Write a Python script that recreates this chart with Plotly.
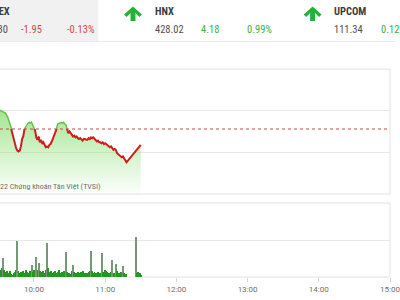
import plotly.graph_objects as go
import pandas as pd

# ---------------- data ----------------
DAY = "2022-03-01 "
line_times = ["09:24", "09:27", "09:30", "09:32", "09:34", "09:36", "09:38", "09:39", "09:40", "09:41",
              "09:42", "09:43", "09:44", "09:45", "09:46", "09:47", "09:48", "09:49", "09:50", "09:51",
              "09:52", "09:53", "09:54", "09:55", "09:56", "09:57", "09:58", "09:59", "10:00", "10:01",
              "10:02", "10:03", "10:04", "10:05", "10:06", "10:07", "10:08", "10:09", "10:10", "10:11",
              "10:12", "10:13", "10:14", "10:15", "10:16", "10:17", "10:18", "10:19", "10:20", "10:21",
              "10:22", "10:23", "10:24", "10:25", "10:26", "10:27", "10:28", "10:29", "10:30", "10:31",
              "10:32", "10:33", "10:34", "10:35", "10:36", "10:37", "10:38", "10:39", "10:40", "10:41",
              "10:42", "10:43", "10:44", "10:45", "10:46", "10:47", "10:48", "10:49", "10:50", "10:51",
              "10:52", "10:53", "10:54", "10:55", "10:56", "10:57", "10:58", "10:59", "11:00", "11:01",
              "11:02", "11:03", "11:04", "11:05", "11:06", "11:07", "11:08", "11:09", "11:10", "11:11",
              "11:12", "11:13", "11:14", "11:15", "11:16", "11:17", "11:18", "11:30"]
line_values = [1505.4, 1505.2, 1505.1, 1505.0, 1504.8, 1504.7, 1504.2, 1503.8, 1503.4, 1502.7,
               1502.1, 1501.5, 1500.9, 1500.5, 1500.2, 1500.1, 1500.2, 1500.7, 1501.6, 1501.9,
               1502.8, 1503.1, 1503.3, 1503.5, 1503.6, 1503.5, 1503.6, 1503.3, 1503.0, 1502.6,
               1501.8, 1501.5, 1501.9, 1501.2, 1501.5, 1501.0, 1501.2, 1500.8, 1500.6, 1500.7,
               1500.6, 1500.9, 1501.0, 1501.3, 1501.7, 1502.1, 1502.3, 1502.8, 1503.4, 1503.5,
               1503.5, 1503.6, 1503.5, 1503.6, 1503.4, 1503.3, 1502.7, 1502.3, 1502.5, 1502.2,
               1502.1, 1501.9, 1502.0, 1501.8, 1501.9, 1501.7, 1501.6, 1501.7, 1501.5, 1501.4,
               1501.6, 1501.6, 1501.5, 1501.5, 1501.7, 1501.6, 1501.8, 1501.7, 1501.8, 1501.6,
               1501.5, 1501.3, 1501.4, 1501.2, 1501.2, 1501.1, 1501.2, 1501.0, 1501.1, 1501.0,
               1500.8, 1500.8, 1500.6, 1500.7, 1500.5, 1500.3, 1500.4, 1500.3, 1499.9, 1499.8,
               1499.6, 1499.5, 1499.4, 1499.5, 1499.3, 1499.0, 1498.8, 1500.9]
ref_value = 1502.8

vol_start = "09:28"
vol_values = [0.8, 0.6, 0.9, 0.7, 1.0, 1.2, 2.6, 0.9, 0.7, 0.8,
              0.6, 0.5, 0.8, 0.4, 0.3, 0.5, 0.7, 0.9, 4.9, 0.8,
              0.6, 0.7, 0.5, 0.8, 0.6, 0.9, 0.7, 0.5, 0.6, 0.8,
              1.6, 0.7, 0.9, 0.8, 2.7, 0.9, 1.9, 0.8, 0.6, 0.7,
              0.8, 0.6, 0.9, 4.6, 1.2, 0.7, 0.8, 0.6, 0.5, 0.7,
              0.8, 0.6, 0.7, 0.9, 0.6, 0.5, 0.7, 0.8, 0.6, 3.4,
              0.7, 0.5, 0.6, 0.4, 0.8, 1.6, 0.7, 0.6, 0.5, 0.7,
              0.6, 0.5, 0.7, 0.8, 0.6, 0.5, 0.4, 0.6, 0.7, 0.8,
              3.5, 0.8, 0.6, 0.7, 0.5, 0.6, 0.7, 0.5, 0.6, 3.2,
              0.7, 0.6, 0.95, 0.8, 0.7, 0.5, 0.6, 0.7, 2.3, 0.6,
              0.5, 1.75, 0.8, 0.6, 0.5, 0.7, 0.6, 1.5, 0.5, 0.4,
              0.4, 0, 0, 0, 0, 0, 0, 0, 5.4, 0.6,
              0.7, 0.5, 0.3]

x_tick_labels = ["10:00", "11:00", "12:00", "13:00", "14:00", "15:00"]
x_range = ["09:31:24", "15:00"]

idx_names = ["VNINDEX", "HNX", "UPCOM"]
idx_values = ["1,500.30", "428.02", "111.34"]
idx_changes = ["-1.95", "4.18", "0.12"]
idx_pcts = ["-0.13%", "0.99%", "0.12%"]
credit_text = "© 2022 Chứng khoán Tân Việt (TVSI)"

# ---------------- geometry helpers ----------------
W, H = 400, 300
ML, MR, MT, MB = 0, 7, 69, 23
PW, PH = W - ML - MR, H - MT - MB


def px(x):
    return (x - ML) / PW


def py(y):
    return (H - MB - y) / PH


main_bot, ref_pix, main_top = py(194), py(129), py(69)
vol_bot, vol_top = py(277), py(203)

xs = [DAY + t for t in line_times]
vol_x = pd.date_range(DAY + vol_start, periods=len(vol_values), freq="min")
y_low = 1495.0
y_high = 1510.0

fig = go.Figure()

grad = dict(type="vertical",
            colorscale=[[0, "rgba(150,228,128,0.04)"], [1, "rgba(140,222,115,0.85)"]],
            start=y_low, stop=1505.6)

for ax in ["y", "y3"]:
    fig.add_trace(go.Scatter(x=xs, y=[y_low] * len(xs), mode="lines", line=dict(width=0),
                             yaxis=ax, hoverinfo="skip", showlegend=False))
    fig.add_trace(go.Scatter(x=xs, y=line_values, mode="lines", line=dict(width=0),
                             fill="tonexty", fillgradient=grad, yaxis=ax,
                             hoverinfo="skip", showlegend=False))

fig.add_trace(go.Scatter(x=xs, y=line_values, mode="lines",
                         line=dict(color="rgb(210,28,28)", width=2), yaxis="y", showlegend=False))
fig.add_trace(go.Scatter(x=xs, y=line_values, mode="lines",
                         line=dict(color="rgb(96,196,76)", width=1.5), yaxis="y3", showlegend=False))

bar_colors = ["rgb(120,150,120)" if v > 1.3 else "rgb(36,150,36)" for v in vol_values]
fig.add_trace(go.Bar(x=vol_x, y=vol_values, yaxis="y2", width=60000 * 0.75,
                     marker=dict(color=bar_colors, line=dict(width=0)), showlegend=False))

grid = "rgb(232,232,232)"
fig.update_layout(
    width=W, height=H, margin=dict(l=ML, r=MR, t=MT, b=MB),
    paper_bgcolor="white", plot_bgcolor="white", showlegend=False, bargap=0,
    font=dict(family="Roboto, Liberation Sans, sans-serif"),
    xaxis=dict(type="date", range=[DAY + x_range[0], DAY + x_range[1]], anchor="y2",
               showgrid=False, zeroline=False, showline=False,
               tickvals=[DAY + t for t in x_tick_labels], ticktext=x_tick_labels,
               ticks="outside", ticklen=4, tickcolor="rgb(215,215,215)",
               tickfont=dict(size=8, color="rgb(110,110,110)"), ticklabeloverflow="allow"),
    yaxis=dict(domain=[main_bot, ref_pix], range=[y_low, ref_value], tick0=y_low, dtick=5,
               showticklabels=False, gridcolor=grid, zeroline=False),
    yaxis3=dict(domain=[ref_pix, main_top], range=[ref_value, y_high], tick0=y_low, dtick=5,
                showticklabels=False, gridcolor=grid, zeroline=False),
    yaxis2=dict(domain=[vol_bot, vol_top], range=[0, 10], dtick=5,
                showticklabels=False, gridcolor=grid, zeroline=False),
)

shapes = []
# panel borders
shapes.append(dict(type="rect", xref="paper", yref="paper", x0=-0.05, x1=1, y0=main_bot, y1=main_top,
                   line=dict(color="rgb(226,226,226)", width=1), layer="below"))
shapes.append(dict(type="rect", xref="paper", yref="paper", x0=-0.05, x1=1, y0=vol_bot, y1=vol_top,
                   line=dict(color="rgb(226,226,226)", width=1), layer="below"))
# reference line
shapes.append(dict(type="line", xref="paper", yref="paper", x0=0, x1=1, y0=ref_pix, y1=ref_pix,
                   line=dict(color="rgb(205,70,70)", width=1, dash="dot"), layer="above"))
# header
shapes.append(dict(type="rect", xref="paper", yref="paper", x0=px(-2), x1=px(99), y0=py(41), y1=py(-2),
                   fillcolor="rgb(241,241,241)", line=dict(width=0), layer="below"))
shapes.append(dict(type="line", xref="paper", yref="paper", x0=px(0), x1=px(400), y0=py(41.5), y1=py(41.5),
                   line=dict(color="rgb(236,236,236)", width=1)))


def arrow(cx, cy):
    pts = [(0, -7.5), (9, 0.5), (6.5, 3), (2.5, -1), (2.5, 7), (-2.5, 7), (-2.5, -1), (-6.5, 3), (-9, 0.5)]
    d = "M " + " L ".join(f"{px(cx + a)},{py(cy + b)}" for a, b in pts) + " Z"
    return dict(type="path", xref="paper", yref="paper", path=d,
                fillcolor="rgb(34,178,52)", line=dict(width=0))


shapes.append(arrow(134, 14))
shapes.append(arrow(315, 14))
fig.update_layout(shapes=shapes)

ann = []
FN = "Roboto Condensed, Liberation Sans Narrow, Roboto, sans-serif"


def text(t, x, y, anchor, size, color, bold=False):
    ann.append(dict(text=f"<b>{t}</b>" if bold else t, x=px(x), y=py(y), xref="paper", yref="paper",
                    xanchor=anchor, yanchor="middle", showarrow=False,
                    font=dict(family=FN, size=size, color=color)))


RED, GREEN, DARK = "rgb(214,72,72)", "rgb(60,176,60)", "rgb(80,80,80)"
text(idx_names[0], 12.5, 11, "right", 10.5, "rgb(60,60,60)", True)
text(idx_values[0], 10.5, 29.5, "right", 10.5, DARK)
text(idx_changes[0], 19, 29.5, "left", 10.5, RED)
text(idx_pcts[0], 66, 29.5, "left", 10.5, RED)
text(idx_names[1], 154, 11, "left", 10.5, "rgb(60,60,60)", True)
text(idx_values[1], 154, 29.5, "left", 10.5, DARK)
text(idx_changes[1], 201, 29.5, "left", 10.5, GREEN)
text(idx_pcts[1], 247, 29.5, "left", 10.5, GREEN)
text(idx_names[2], 335, 11, "left", 10.5, "rgb(60,60,60)", True)
text(idx_values[2], 335, 29.5, "left", 10.5, DARK)
text(idx_pcts[2], 382, 29.5, "left", 10.5, GREEN)
text(credit_text, 103.5, 186.5, "right", 8, "rgb(110,110,110)")
fig.update_layout(annotations=ann)

fig.write_html("out.html", config={"displayModeBar": False})
